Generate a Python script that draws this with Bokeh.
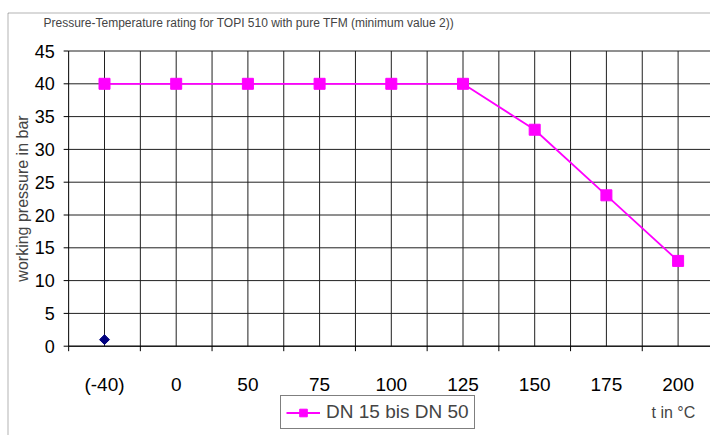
import math
from bokeh.plotting import figure
from bokeh.models import Legend, LegendItem, Label, BoxAnnotation, Range1d
from bokeh.core.properties import value
from bokeh.embed import file_html
from bokeh.resources import INLINE

categories = ["(-40)", "0", "50", "75", "100", "125", "150", "175", "200"]
pressure = [40, 40, 40, 40, 40, 40, 33, 23, 13]
min_categories = ["(-40)"]
min_values = [1]
y_ticks = [0, 5, 10, 15, 20, 25, 30, 35, 40, 45]

title_text = "Pressure-Temperature rating for TOPI 510 with pure TFM  (minimum value 2))"
y_label = "working pressure in bar"
x_label = "t in °C"
series_name = "DN 15 bis DN 50"
FONT = "Liberation Sans"

# ---- layout (pixels) ----
W, H = 710, 435
X0PX, DX = 104.0, 71.7    # pixel of first category, category spacing
Y0PX, DY = 345.7, 6.56    # pixel of y=0, pixels per unit


def px2x(px):
    return (px - X0PX) / DX


def py2y(py):
    return (Y0PX - py) / DY


xs = [categories.index(c) for c in categories]
xs_min = [categories.index(c) for c in min_categories]
n = len(categories)
x_lo = -0.5
x_hi = px2x(W + 30)
y_top = max(y_ticks)

p = figure(width=W, height=H, output_backend="svg", toolbar_location=None,
           x_range=Range1d(px2x(0), px2x(W)), y_range=Range1d(py2y(H), py2y(0)),
           min_border=0, x_axis_type=None, y_axis_type=None)
p.outline_line_color = None
p.background_fill_color = "white"
p.border_fill_color = "white"

GRID = "#202020"
# horizontal grid lines
p.segment(x0=[x_lo] * len(y_ticks), y0=y_ticks, x1=[x_hi] * len(y_ticks), y1=y_ticks,
          line_color=GRID, line_width=1)
# vertical grid lines (boundaries and category centres)
bounds = [i - 0.5 for i in range(n + 1)]
vx = sorted(set(bounds[1:] + xs))
p.segment(x0=vx, y0=[0] * len(vx), x1=vx, y1=[y_top] * len(vx),
          line_color=GRID, line_width=1)

# axes
p.segment(x0=[x_lo], y0=[0], x1=[x_lo], y1=[y_top], line_color="black", line_width=1)
p.segment(x0=[x_lo], y0=[0], x1=[x_hi], y1=[0], line_color="black", line_width=1)
p.ray(x=[x_lo] * len(y_ticks), y=y_ticks, length=5, length_units="screen",
      angle=math.pi, line_color="black", line_width=1)
p.ray(x=bounds, y=[0] * len(bounds), length=5, length_units="screen",
      angle=-math.pi / 2, line_color="black", line_width=1)

# tick labels
p.text(x=[x_lo] * len(y_ticks), y=y_ticks, text=[str(t) for t in y_ticks],
       x_offset=-14, text_align="right", text_baseline="middle",
       text_font=value(FONT), text_font_size=value("18px"), text_color="black")
p.text(x=xs, y=[0] * n, text=categories, y_offset=38, text_align="center",
       text_baseline="middle", text_font=value(FONT), text_font_size=value("19px"),
       text_color="black")

# data
ln = p.line(xs, pressure, line_color="#FF00FF", line_width=1.8)
sq = p.scatter(xs, pressure, marker="square", size=11, fill_color="#FF00FF",
               line_color="#FF00FF")
p.scatter(xs_min, min_values, marker="square", angle=math.pi / 4, size=7,
          fill_color="#000080", line_color="#000080")

# texts
p.add_layout(Label(x=px2x(43), y=py2y(22), text=title_text, text_font=FONT,
                   text_font_size="12px", text_baseline="middle", text_align="left"))
p.add_layout(Label(x=px2x(22), y=py2y(198), text=y_label, text_font=FONT,
                   text_font_size="16px", text_baseline="middle", text_align="center",
                   angle=math.pi / 2))
p.add_layout(Label(x=px2x(651), y=py2y(412), text=x_label, text_font=FONT,
                   text_font_size="16px", text_baseline="middle", text_align="left"))

legend = Legend(items=[LegendItem(label=series_name, renderers=[ln, sq])],
                location=(280, 6), orientation="horizontal",
                label_text_font=FONT, label_text_font_size="19px",
                border_line_color="black", border_line_width=1,
                padding=5, margin=0, spacing=0, glyph_width=34, glyph_height=19,
                label_standoff=6, background_fill_color="white")
p.add_layout(legend, "center")

# outer chart border
p.add_layout(BoxAnnotation(left=px2x(7.5), right=px2x(W + 40), top=py2y(12.5),
                           bottom=py2y(H + 40), fill_alpha=0, line_color="black",
                           line_width=1, level="underlay"))

open("out.html", "w").write(file_html(p, INLINE))
